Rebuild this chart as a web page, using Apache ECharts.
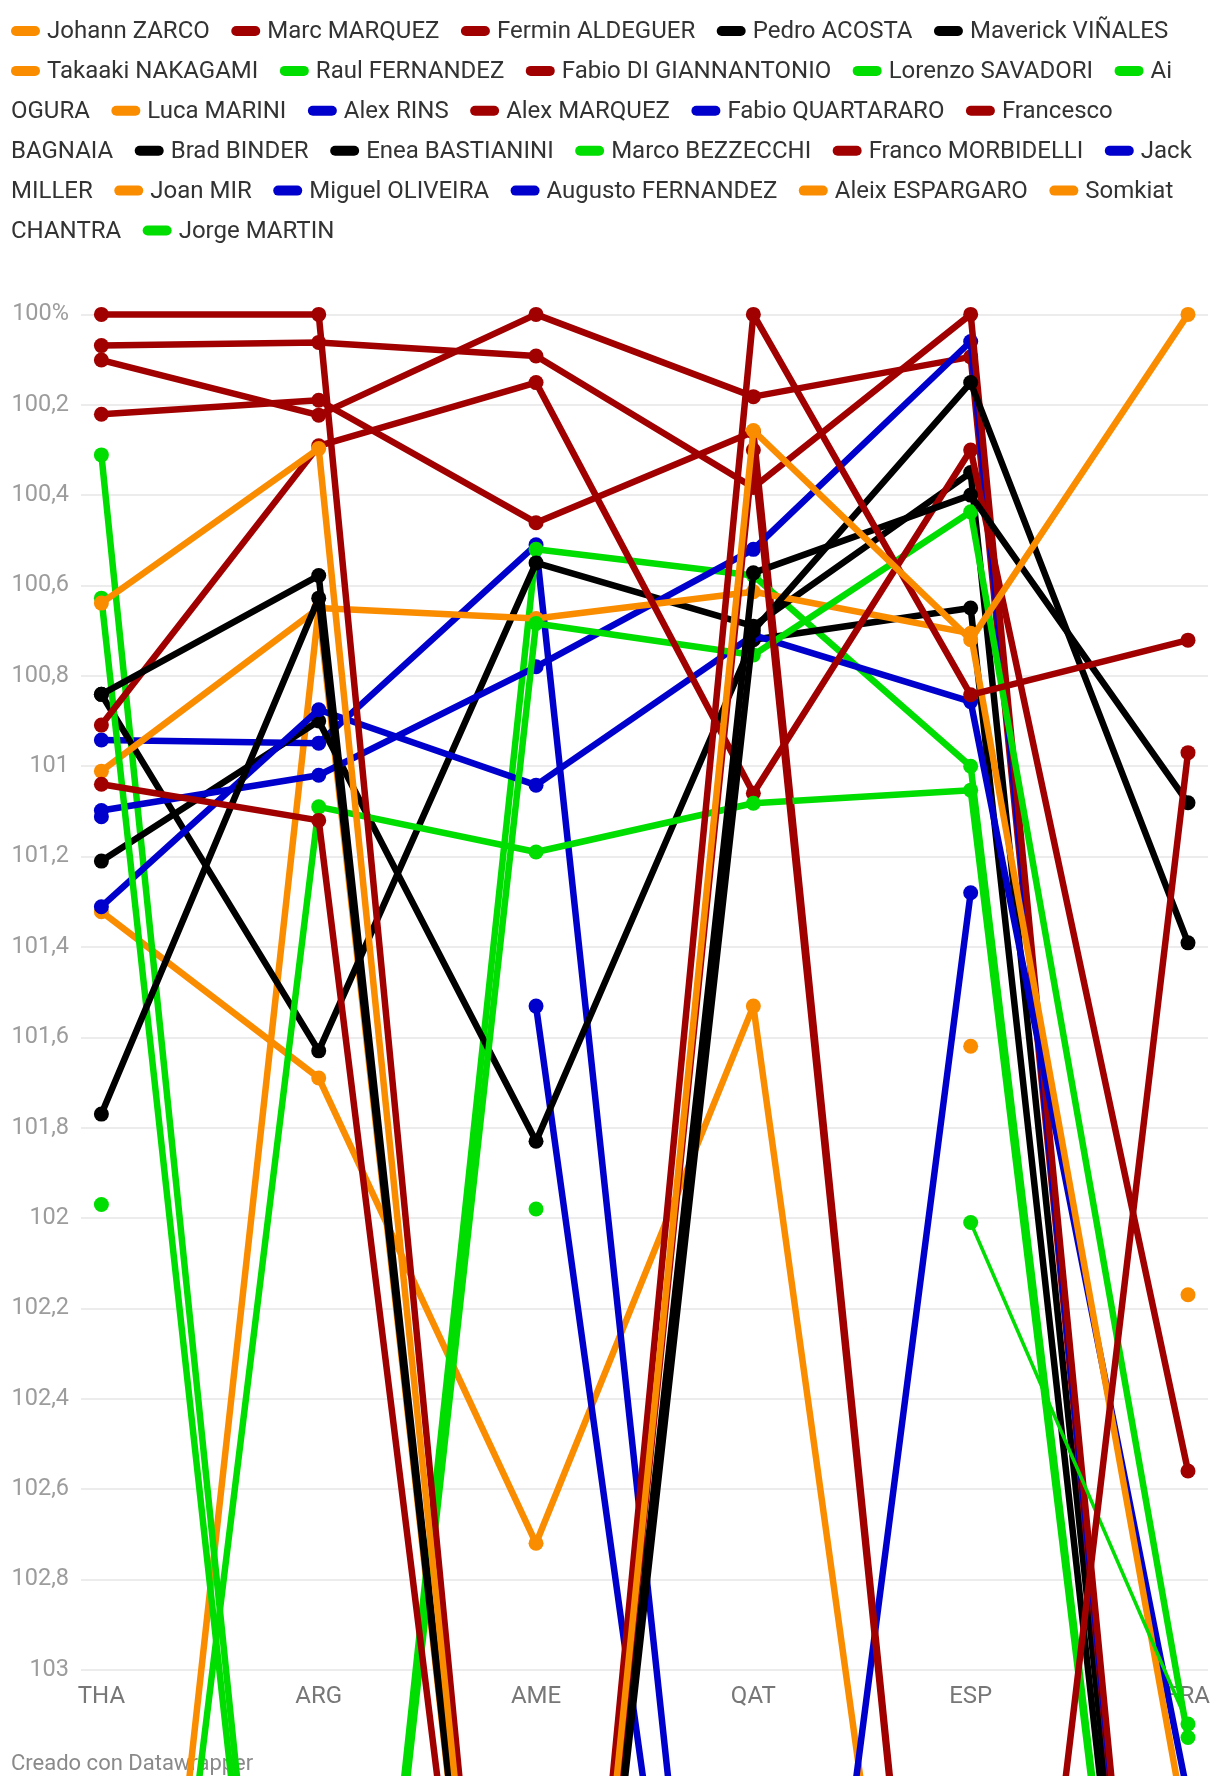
<!DOCTYPE html>
<html>
<head>
<meta charset="utf-8">
<script src="https://cdn.jsdelivr.net/npm/echarts@6/dist/echarts.min.js"></script>
<style>
  html, body { margin: 0; padding: 0; background: #ffffff; }
  #chart { width: 1220px; height: 1776px; }
</style>
</head>
<body>
<div id="chart"></div>
<script>
// ---------------- DATA ----------------
const RACES = ['THA', 'ARG', 'AME', 'QAT', 'ESP', 'FRA'];

const Y_TICK_LABELS = ['100%', '100,2', '100,4', '100,6', '100,8', '101', '101,2', '101,4',
  '101,6', '101,8', '102', '102,2', '102,4', '102,6', '102,8', '103'];

const RIDERS = ['Johann ZARCO', 'Marc MARQUEZ', 'Fermin ALDEGUER', 'Pedro ACOSTA', 'Maverick VIÑALES',
  'Takaaki NAKAGAMI', 'Raul FERNANDEZ', 'Fabio DI GIANNANTONIO', 'Lorenzo SAVADORI', 'Ai OGURA',
  'Luca MARINI', 'Alex RINS', 'Alex MARQUEZ', 'Fabio QUARTARARO', 'Francesco BAGNAIA',
  'Brad BINDER', 'Enea BASTIANINI', 'Marco BEZZECCHI', 'Franco MORBIDELLI', 'Jack MILLER',
  'Joan MIR', 'Miguel OLIVEIRA', 'Augusto FERNANDEZ', 'Aleix ESPARGARO', 'Somkiat CHANTRA',
  'Jorge MARTIN'];

// manufacturer of each rider (same order as RIDERS)
const BRANDS = ['honda', 'ducati', 'ducati', 'ktm', 'ktm',
  'honda', 'aprilia', 'ducati', 'aprilia', 'aprilia',
  'honda', 'yamaha', 'ducati', 'yamaha', 'ducati',
  'ktm', 'ktm', 'aprilia', 'ducati', 'yamaha',
  'honda', 'yamaha', 'yamaha', 'honda', 'honda',
  'aprilia'];

// % of reference time per race (THA, ARG, AME, QAT, ESP, FRA); values beyond 103 run off the chart
const vZarco           = [100.639, 100.297, 105,     100.257, 100.72,  100.0];
const vMarcMarquez     = [100.0,   100.0,   105,     100.0,   100.842, 100.721];
const vAldeguer        = [101.04,  101.12,  105,     100.30,  105,     100.97];
const vAcosta          = [100.841, 100.578, 105,     100.572, 100.40,  101.081];
const vVinales         = [101.77,  100.628, 105,     100.70,  100.151, 101.391];
const vNakagami        = [null,    null,    null,    null,    null,    102.17];
const vRaulFernandez   = [105,     101.09,  101.19,  101.082, 101.053, 105];
const vDiGiannantonio  = [100.909, 100.291, 100.151, 101.06,  100.30,  102.56];
const vSavadori        = [101.97,  null,    101.98,  null,    102.01,  103.12];
const vOgura           = [100.628, 105,     100.684, 100.754, 100.437, 103.15];
const vMarini          = [101.011, 100.65,  100.673, 100.614, 100.706, 103.38];
const vRins            = [101.311, 100.875, 101.042, 100.71,  100.857, 103.28];
const vAlexMarquez     = [100.069, 100.062, 100.092, 100.383, 100.0,   105];
const vQuartararo      = [101.098, 101.02,  100.78,  100.52,  100.06,  105];
const vBagnaia         = [100.101, 100.223, 100.0,   100.182, 100.094, 105];
const vBinder          = [100.841, 101.63,  100.55,  100.69,  100.35,  105];
const vBastianini      = [101.21,  100.90,  101.83,  100.72,  100.65,  105];
const vBezzecchi       = [100.311, 105,     100.52,  100.578, 101.0,   105];
const vMorbidelli      = [100.221, 100.19,  100.461, 100.26,  105,     105];
const vMiller          = [100.942, 100.949, 100.51,  105,     105,     105];
const vMir             = [105,     100.65,  105,     105,     105,     105];
const vOliveira        = [101.112, null,    null,    null,    null,    105];
const vAugustoFernandez= [null,    null,    101.531, 105,     101.28,  null];
const vAleixEspargaro  = [null,    null,    null,    null,    101.62,  null];
const vChantra         = [101.322, 101.69,  102.72,  101.531, 105,     null];
const vMartin          = [null,    null,    null,    105,     null,    null];

const SERIES_VALUES = [vZarco, vMarcMarquez, vAldeguer, vAcosta, vVinales, vNakagami,
  vRaulFernandez, vDiGiannantonio, vSavadori, vOgura, vMarini, vRins, vAlexMarquez,
  vQuartararo, vBagnaia, vBinder, vBastianini, vBezzecchi, vMorbidelli, vMiller, vMir,
  vOliveira, vAugustoFernandez, vAleixEspargaro, vChantra, vMartin];

// ---------------- STYLE ----------------
const BRAND_COLORS = {
  honda: '#fa8c00',
  ducati: '#a00000',
  ktm: '#000000',
  aprilia: '#00dd00',
  yamaha: '#0000cc'
};
const THIN_RIDERS = ['Lorenzo SAVADORI'];
const FONT = 'Roboto';

// plot geometry
const PLOT_TOP = 314.4;
const PLOT_H = 1355.4;

// ---------------- LEGEND (flow layout like the original) ----------------
const LEG = { left: 11, right: 1209, firstY: 32, lineH: 39.9, iconW: 29, iconH: 10,
  iconGap: 7, itemGap: 21.5, fontSize: 24, color: '#333333' };

const mctx = document.createElement('canvas').getContext('2d');
mctx.font = LEG.fontSize + 'px ' + FONT;
const tw = s => mctx.measureText(s).width;

const graphics = [];
(function buildLegend() {
  let x = LEG.left, row = 0;
  const rowY = r => LEG.firstY + r * LEG.lineH;
  const pushText = (txt, px, r) => graphics.push({
    type: 'text', x: px, y: rowY(r), z: 0,
    style: { text: txt, fill: LEG.color, fontSize: LEG.fontSize, fontFamily: FONT,
      verticalAlign: 'middle', align: 'left' }
  });
  RIDERS.forEach((name, i) => {
    const color = BRAND_COLORS[BRANDS[i]];
    const words = name.split(' ');
    if (x > LEG.left && x + LEG.iconW + LEG.iconGap + tw(words[0]) > LEG.right) {
      row++; x = LEG.left;
    }
    graphics.push({
      type: 'rect', z: 0,
      shape: { x: x, y: rowY(row) - LEG.iconH / 2 - 1, width: LEG.iconW, height: LEG.iconH, r: LEG.iconH / 2 },
      style: { fill: color }
    });
    x += LEG.iconW + LEG.iconGap;
    let line = words[0];
    for (let k = 1; k < words.length; k++) {
      const cand = line + ' ' + words[k];
      if (x + tw(cand) > LEG.right) {
        pushText(line, x, row);
        row++; x = LEG.left; line = words[k];
      } else {
        line = cand;
      }
    }
    pushText(line, x, row);
    x += tw(line) + LEG.itemGap;
  });
})();

graphics.push({
  type: 'text', x: 11, y: 1764.5, z: 0,
  style: { text: 'Creado con Datawrapper', fill: '#8a8a8a', fontSize: 22, fontFamily: FONT,
    verticalAlign: 'middle', align: 'left' }
});

// ---------------- SERIES ----------------
const series = RIDERS.map((name, i) => {
  const color = BRAND_COLORS[BRANDS[i]];
  const thin = THIN_RIDERS.indexOf(name) >= 0;
  return {
    type: 'line',
    name: name,
    xAxisIndex: 1,
    yAxisIndex: 1,
    data: SERIES_VALUES[i],
    clip: false,
    connectNulls: false,
    symbol: 'circle',
    symbolSize: 15,
    showSymbol: true,
    showAllSymbol: true,
    z: 2 + (RIDERS.length - i) * 0.01,
    lineStyle: { color: color, width: thin ? 3.5 : 6.5, cap: 'round', join: 'round' },
    itemStyle: { color: color, borderWidth: 0 },
    emphasis: { disabled: true },
    silent: true
  };
}).reverse();

const chart = echarts.init(document.getElementById('chart'), null, { renderer: 'canvas' });
chart.setOption({
  animation: false,
  backgroundColor: '#ffffff',
  textStyle: { fontFamily: FONT },
  grid: [
    { left: 81, right: 12, top: PLOT_TOP, height: PLOT_H },
    { left: 101.4, right: 32, top: PLOT_TOP, height: PLOT_H }
  ],
  xAxis: [
    { gridIndex: 0, type: 'value', min: 0, max: 1, show: false },
    { gridIndex: 1, type: 'category', data: RACES, boundaryGap: false,
      axisLine: { show: false }, axisTick: { show: false }, splitLine: { show: false },
      axisLabel: { fontSize: 24, color: '#777777', margin: 15, fontFamily: FONT } }
  ],
  yAxis: [
    { gridIndex: 0, type: 'value', min: 100, max: 103, interval: 0.2, inverse: true,
      axisLine: { show: false }, axisTick: { show: false },
      axisLabel: { fontSize: 23.5, color: '#9c9c9c', margin: 12, fontFamily: FONT, padding: [4, 0, 0, 0],
        formatter: v => { const k = Math.round((v - 100) / 0.2); return Y_TICK_LABELS[k] || ''; } },
      splitLine: { lineStyle: { color: '#e6e6e6', width: 1.5 } } },
    { gridIndex: 1, type: 'value', min: 100, max: 103, inverse: true, show: false }
  ],
  graphic: { elements: graphics },
  series: series
});
</script>
</body>
</html>
